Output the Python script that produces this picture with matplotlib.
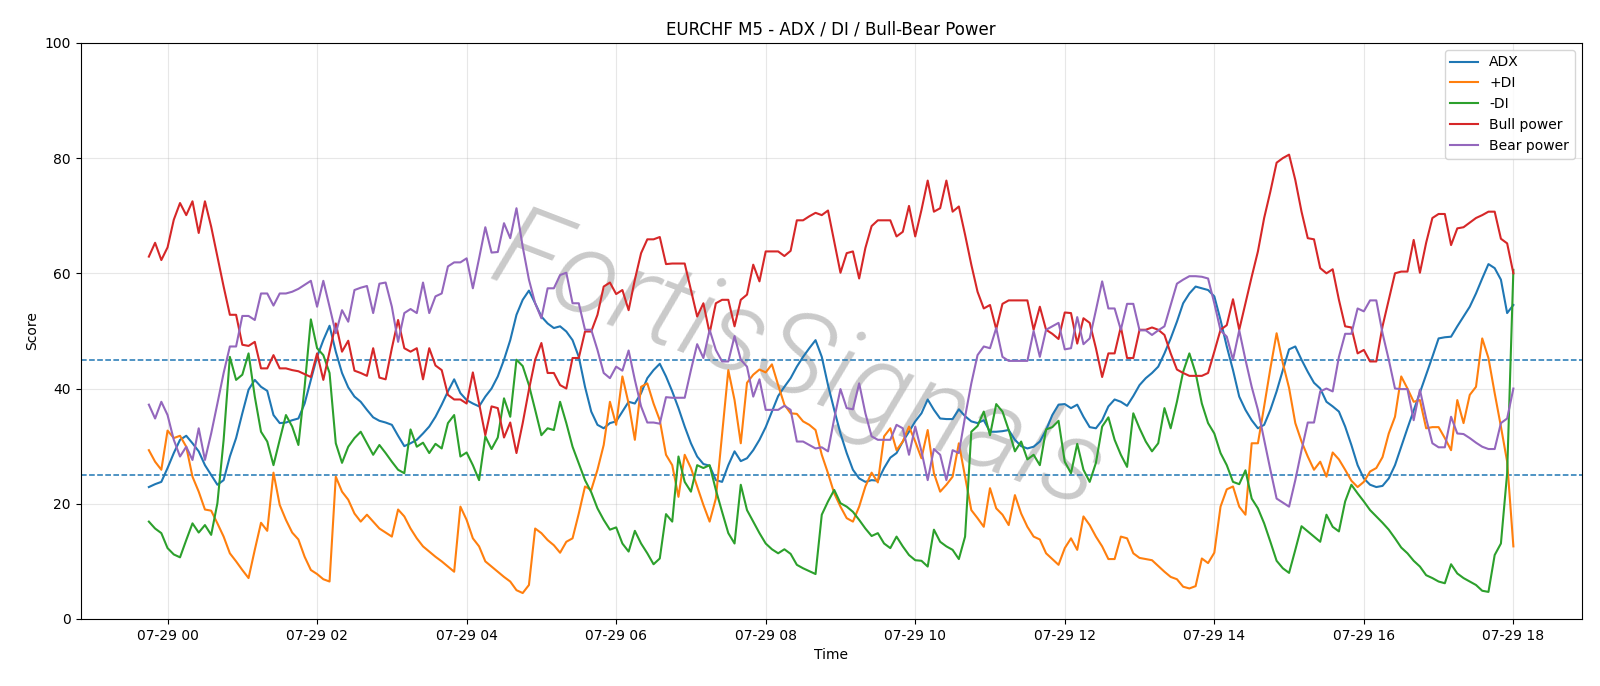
import numpy as np
import pandas as pd
import matplotlib
matplotlib.use("Agg")
import matplotlib.pyplot as plt
import matplotlib.dates as mdates

# EURCHF M5, 5-minute bars from 07-28 23:45 to 07-29 18:00
times = pd.date_range("2024-07-28 23:45", periods=220, freq="5min")

adx = [
    22.9, 23.4, 23.8, 26.2, 28.8, 31.1, 31.8, 30.5, 29.1, 26.7, 25.0, 23.3, 24.1, 28.2, 31.4, 35.7, 39.8, 41.5, 40.3, 39.6, 35.4, 34.0, 34.1, 34.5,
    34.8, 37.4, 41.5, 45.5, 48.4, 50.9, 46.4, 42.7, 40.2, 38.6, 37.7, 36.3, 35.0, 34.4, 34.1, 33.7, 31.8, 30.0, 30.5, 31.1, 32.2, 33.4, 35.1, 37.2,
    39.5, 41.6, 39.2, 38.0, 37.4, 36.9, 38.6, 40.0, 42.1, 45.0, 48.4, 52.8, 55.4, 57.0, 54.8, 52.5, 51.3, 50.5, 50.8, 49.9, 48.4, 45.5, 40.3, 36.0,
    33.7, 33.1, 34.0, 34.3, 36.0, 37.7, 37.4, 39.2, 41.8, 43.2, 44.3, 42.1, 39.5, 36.6, 33.4, 30.5, 28.2, 26.9, 26.6, 24.1, 23.8, 26.7, 29.1, 27.4,
    27.9, 29.3, 31.1, 33.3, 36.0, 38.7, 40.3, 41.8, 43.8, 45.5, 47.0, 48.4, 45.5, 40.6, 36.3, 32.2, 28.8, 25.9, 24.4, 23.8, 24.1, 24.0, 26.2, 28.0,
    28.8, 30.8, 32.5, 34.3, 35.7, 38.1, 36.3, 34.8, 34.7, 34.7, 36.4, 35.2, 34.3, 34.0, 34.5, 32.5, 32.5, 32.6, 32.8, 31.1, 30.0, 29.6, 29.9, 30.8,
    32.8, 35.4, 37.2, 37.3, 36.6, 37.2, 35.1, 33.3, 33.1, 34.5, 36.9, 38.1, 37.7, 37.0, 38.7, 40.6, 41.8, 42.7, 43.8, 46.1, 48.7, 51.6, 54.8, 56.5,
    57.7, 57.4, 57.1, 56.0, 51.9, 47.3, 43.2, 38.6, 36.3, 34.5, 33.1, 33.7, 36.3, 39.5, 43.2, 46.8, 47.3, 45.0, 42.9, 41.0, 40.0, 37.7, 36.9, 36.0,
    33.4, 30.2, 26.7, 24.4, 23.3, 22.9, 23.1, 24.4, 26.7, 29.9, 33.1, 36.2, 39.3, 42.4, 45.5, 48.7, 48.9, 49.0, 50.8, 52.5, 54.2, 56.5, 59.1, 61.6,
    60.9, 58.9, 53.1, 54.5,
]

plus_di = [
    29.3, 27.3, 25.9, 32.7, 31.4, 31.8, 29.9, 24.7, 22.1, 19.0, 18.8, 16.6, 14.3, 11.4, 10.0, 8.5, 7.1, 12.0, 16.7, 15.3, 25.4, 19.8, 17.2, 15.0,
    13.8, 10.8, 8.5, 7.8, 6.9, 6.5, 24.7, 22.1, 20.7, 18.3, 16.9, 18.1, 16.9, 15.7, 15.0, 14.3, 19.0, 17.8, 15.7, 14.0, 12.6, 11.7, 10.8, 10.0,
    9.1, 8.2, 19.5, 17.2, 14.0, 12.6, 10.0, 9.1, 8.2, 7.3, 6.5, 5.0, 4.5, 5.9, 15.7, 14.9, 13.7, 12.8, 11.5, 13.4, 14.0, 18.3, 23.0, 22.4,
    25.9, 30.2, 37.7, 33.7, 42.1, 37.4, 31.1, 40.3, 40.9, 37.4, 34.5, 28.5, 26.7, 21.2, 28.5, 26.2, 23.0, 19.8, 16.9, 20.9, 32.0, 43.2, 38.0, 30.5,
    41.0, 42.4, 43.3, 42.8, 44.2, 40.6, 37.2, 35.7, 35.6, 34.3, 33.7, 32.8, 28.5, 25.3, 21.8, 19.5, 17.5, 16.9, 19.5, 23.0, 25.4, 23.7, 31.7, 33.1,
    29.3, 30.8, 33.4, 30.8, 27.9, 32.8, 25.3, 22.1, 23.3, 24.7, 30.5, 24.7, 18.9, 17.5, 16.0, 22.7, 19.2, 18.1, 16.3, 21.5, 18.3, 16.0, 14.3, 13.8,
    11.4, 10.4, 9.4, 12.3, 14.0, 12.0, 17.8, 16.3, 14.3, 12.6, 10.4, 10.4, 14.3, 14.0, 11.4, 10.6, 10.4, 10.2, 9.2, 8.2, 7.3, 6.9, 5.6, 5.3,
    5.7, 10.5, 9.7, 11.5, 19.5, 22.5, 23.0, 19.5, 18.1, 30.5, 30.5, 36.9, 43.5, 49.6, 44.4, 40.1, 34.0, 30.8, 28.2, 25.9, 27.3, 24.7, 28.9, 27.7,
    25.9, 24.0, 22.9, 23.8, 25.6, 26.2, 28.1, 32.2, 35.1, 42.1, 40.0, 37.7, 38.0, 33.1, 33.3, 33.3, 31.4, 29.3, 38.0, 34.0, 38.9, 40.3, 48.7, 45.3,
    39.2, 33.4, 27.3, 12.6,
]

minus_di = [
    16.9, 15.7, 14.9, 12.3, 11.2, 10.7, 13.7, 16.6, 15.0, 16.3, 14.6, 20.1, 31.1, 45.5, 41.5, 42.4, 46.1, 38.6, 32.5, 30.8, 26.7, 31.1, 35.4, 33.4,
    30.2, 40.3, 52.0, 47.0, 45.8, 42.7, 30.5, 27.1, 29.9, 31.4, 32.5, 30.5, 28.5, 30.2, 28.8, 27.3, 25.9, 25.3, 32.9, 29.9, 30.6, 28.8, 30.4, 29.6,
    34.0, 35.4, 28.2, 28.9, 26.7, 24.1, 31.7, 29.5, 31.5, 38.3, 35.1, 45.0, 43.9, 40.6, 36.3, 31.9, 33.1, 32.8, 37.7, 34.0, 29.9, 27.0, 24.1, 22.0,
    19.2, 17.2, 15.5, 15.9, 13.1, 11.7, 15.3, 13.1, 11.4, 9.5, 10.5, 18.2, 16.9, 28.2, 23.8, 22.1, 26.7, 26.2, 26.7, 22.4, 18.6, 14.9, 13.1, 23.3,
    18.9, 16.9, 14.9, 13.1, 12.1, 11.4, 12.1, 11.3, 9.4, 8.8, 8.3, 7.8, 18.1, 20.4, 22.4, 20.1, 19.5, 18.6, 17.2, 15.7, 14.4, 14.9, 13.1, 12.3,
    14.3, 12.6, 11.1, 10.2, 10.1, 9.1, 15.5, 13.4, 12.6, 12.0, 10.4, 14.3, 32.5, 33.5, 36.0, 31.9, 37.3, 36.0, 32.8, 29.1, 30.8, 27.7, 28.5, 26.7,
    32.9, 33.3, 34.4, 27.3, 25.3, 30.4, 25.9, 23.8, 27.1, 33.4, 35.0, 31.1, 28.5, 26.4, 35.7, 33.1, 30.8, 29.1, 30.5, 36.6, 33.1, 37.7, 42.9, 46.1,
    42.7, 37.4, 34.0, 32.2, 28.8, 26.7, 23.8, 23.4, 25.8, 20.9, 19.2, 16.6, 13.4, 10.1, 8.8, 8.0, 12.0, 16.1, 15.2, 14.3, 13.4, 18.1, 16.0, 15.2,
    20.4, 23.3, 21.8, 20.4, 18.9, 17.8, 16.7, 15.5, 14.0, 12.4, 11.4, 10.1, 9.1, 7.6, 7.1, 6.5, 6.2, 9.5, 7.9, 7.1, 6.5, 5.9, 4.9, 4.7,
    11.1, 13.1, 25.3, 60.6,
]

bull = [
    62.9, 65.3, 62.3, 64.5, 69.3, 72.2, 70.1, 72.5, 67.0, 72.5, 68.1, 62.9, 57.7, 52.8, 52.8, 47.6, 47.4, 48.1, 43.5, 43.5, 45.8, 43.5, 43.5, 43.2,
    43.0, 42.5, 42.0, 46.1, 41.5, 46.4, 51.3, 46.4, 48.3, 43.1, 42.7, 42.2, 47.0, 41.9, 41.6, 47.0, 51.9, 47.0, 46.4, 47.0, 41.6, 47.0, 44.0, 43.2,
    38.9, 38.1, 38.1, 37.4, 42.8, 37.4, 31.9, 36.9, 36.6, 31.5, 34.1, 28.8, 34.0, 39.8, 45.0, 47.9, 42.7, 42.7, 40.6, 40.0, 45.3, 45.3, 49.9, 49.9,
    52.8, 57.7, 58.4, 56.4, 57.1, 53.6, 58.9, 63.5, 65.9, 65.9, 66.3, 61.6, 61.7, 61.7, 61.7, 57.1, 52.5, 54.8, 49.6, 54.8, 55.4, 55.4, 50.8, 55.4,
    56.3, 61.5, 58.6, 63.8, 63.8, 63.8, 63.0, 63.9, 69.2, 69.2, 69.9, 70.5, 70.1, 70.9, 65.5, 60.1, 63.5, 63.8, 59.1, 64.4, 68.2, 69.2, 69.2, 69.2,
    66.4, 67.2, 71.7, 66.4, 71.0, 76.1, 70.7, 71.3, 76.1, 70.7, 71.6, 66.7, 61.5, 56.8, 53.9, 54.5, 50.3, 54.7, 55.3, 55.3, 55.3, 55.3, 50.2, 54.2,
    50.2, 49.5, 48.6, 53.2, 53.1, 47.8, 52.2, 51.4, 47.0, 42.0, 46.1, 46.1, 50.7, 45.3, 45.3, 50.2, 50.2, 50.6, 50.2, 49.3, 46.1, 43.3, 42.7, 42.2,
    42.2, 42.2, 42.7, 46.4, 50.2, 51.0, 55.5, 50.2, 54.8, 59.4, 63.8, 69.6, 74.2, 79.2, 80.0, 80.6, 76.2, 70.7, 66.1, 65.9, 60.9, 60.0, 60.7, 55.4,
    50.8, 50.6, 46.1, 46.7, 44.7, 44.7, 50.8, 55.4, 60.0, 60.3, 60.3, 65.8, 60.1, 65.3, 69.6, 70.3, 70.3, 64.9, 67.8, 68.0, 68.8, 69.6, 70.1, 70.7,
    70.7, 66.0, 65.2, 60.0,
]

bear = [
    37.2, 34.8, 37.7, 35.4, 31.1, 28.2, 29.9, 27.6, 33.1, 27.6, 32.2, 37.4, 42.7, 47.3, 47.3, 52.6, 52.6, 51.9, 56.5, 56.5, 54.4, 56.5, 56.5, 56.8,
    57.3, 58.0, 58.7, 54.2, 58.7, 54.2, 49.6, 53.6, 51.6, 57.1, 57.5, 57.8, 53.1, 58.2, 58.4, 54.2, 48.1, 53.1, 53.8, 53.1, 58.4, 53.1, 56.0, 56.5,
    61.2, 61.9, 61.9, 62.6, 57.4, 62.6, 68.0, 63.6, 63.7, 68.7, 66.1, 71.3, 64.6, 58.9, 54.8, 52.2, 57.4, 57.4, 59.7, 60.1, 54.8, 54.8, 50.2, 50.2,
    46.7, 42.7, 41.8, 43.8, 43.1, 46.6, 41.5, 36.9, 34.1, 34.1, 33.9, 38.5, 38.4, 38.4, 38.4, 43.2, 47.7, 45.3, 50.2, 46.7, 44.7, 44.7, 49.1, 45.0,
    43.8, 38.6, 41.6, 36.3, 36.3, 36.3, 37.0, 36.3, 30.8, 30.8, 30.2, 29.6, 29.8, 29.1, 34.8, 39.9, 36.6, 36.4, 40.9, 35.7, 31.7, 31.1, 31.1, 31.1,
    33.7, 33.1, 28.5, 33.4, 29.1, 24.1, 29.5, 28.5, 24.1, 29.3, 28.8, 35.1, 40.9, 45.8, 47.3, 47.0, 50.5, 45.5, 44.8, 44.8, 44.8, 44.8, 50.0, 45.5,
    50.2, 50.8, 51.4, 46.8, 47.0, 52.4, 47.7, 48.7, 53.6, 58.6, 53.9, 53.9, 50.2, 54.7, 54.7, 50.1, 50.1, 49.3, 50.1, 50.8, 54.5, 58.2, 58.9, 59.5,
    59.5, 59.4, 59.1, 54.8, 50.1, 49.0, 45.0, 50.1, 45.0, 40.3, 36.3, 31.1, 25.9, 20.9, 20.2, 19.5, 24.1, 29.3, 34.1, 34.1, 39.5, 40.0, 39.5, 45.5,
    49.5, 49.5, 53.9, 53.4, 55.3, 55.3, 49.6, 45.0, 40.0, 39.9, 39.9, 34.5, 39.8, 34.8, 30.5, 29.8, 29.8, 35.1, 32.2, 32.1, 31.4, 30.6, 29.9, 29.5,
    29.5, 34.0, 34.8, 40.0,
]

levels = [25, 45]

series = [
    ("ADX", adx),
    ("+DI", plus_di),
    ("-DI", minus_di),
    ("Bull power", bull),
    ("Bear power", bear),
]
for name, vals in series:
    if len(vals) != len(times):
        raise ValueError(f"{name}: {len(vals)} values")

fig = plt.figure(figsize=(16, 6.86), dpi=100)
ax = fig.add_subplot(111)
fig.subplots_adjust(left=0.0504, right=0.9885, bottom=0.0977, top=0.9375)

for name, vals in series:
    ax.plot(times, vals, lw=1.5, label=name, zorder=2)

for lvl in levels:
    ax.axhline(lvl, color="C0", ls="--", lw=1.1, zorder=1.5)

# grey watermark across the middle of the plot
ax.text(
    0.478, 0.44, "FortisSignals",
    transform=ax.transAxes, rotation=-21, fontsize=84,
    family=["Roboto", "DejaVu Sans"], fontweight=300, fontstyle="italic",
    color="0.4", alpha=0.35, ha="center", va="center", zorder=1,
)

ax.set_ylim(0, 100)
ax.xaxis.set_major_locator(mdates.HourLocator(interval=2))
ax.xaxis.set_major_formatter(mdates.DateFormatter("%m-%d %H"))
ax.grid(which="both", alpha=0.3)
ax.set_title("EURCHF M5 - ADX / DI / Bull-Bear Power")
ax.set_xlabel("Time")
ax.set_ylabel("Score")
ax.legend(loc="upper right")

fig.savefig("out.png", dpi=100)
